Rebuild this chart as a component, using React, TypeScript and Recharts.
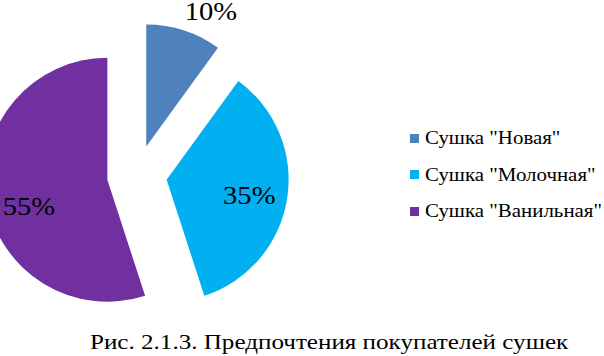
import React from "react";
import { PieChart, Pie, Cell, Legend, Sector } from "recharts";

const categories = ['Сушка "Новая"', 'Сушка "Молочная"', 'Сушка "Ванильная"'];
const shares = [10, 35, 55];
const colors = ["#4F81BD", "#00B0F0", "#7030A0"];
const title = "Рис. 2.1.3. Предпочтения покупателей сушек";

const data = categories.map((name, i) => ({ name, value: shares[i] }));

const RAD = Math.PI / 180;
const EXPLODE = 30;
const FONT = "'Liberation Serif', 'Times New Roman', serif";
const LABEL_POS = [
  { r: 1.23, da: -7.5 },
  { r: 0.69, da: -2 },
  { r: 0.68, da: 10 },
];

const ExplodedSector = (props: any) => {
  const { cx, cy, midAngle } = props;
  const dx = EXPLODE * Math.cos(-midAngle * RAD);
  const dy = EXPLODE * Math.sin(-midAngle * RAD);
  return <Sector {...props} cx={cx + dx} cy={cy + dy} stroke="none" />;
};

const renderLabel = (props: any) => {
  const { cx, cy, midAngle, outerRadius, percent, index } = props;
  const ox = cx + EXPLODE * Math.cos(-midAngle * RAD);
  const oy = cy + EXPLODE * Math.sin(-midAngle * RAD);
  const p = LABEL_POS[index];
  const a = (midAngle + p.da) * RAD;
  const x = ox + p.r * outerRadius * Math.cos(-a);
  const y = oy + p.r * outerRadius * Math.sin(-a);
  return (
    <text
      x={0}
      y={0}
      transform={`translate(${x},${y}) scale(1.1,1)`}
      textAnchor="middle"
      dominantBaseline="central"
      fontFamily={FONT}
      fontSize={26}
      fill="#000"
    >
      {`${Math.round(percent * 100)}%`}
    </text>
  );
};

const renderLegend = () => (
  <div style={{ fontFamily: FONT, fontSize: 19, color: "#000" }}>
    {categories.map((c, i) => (
      <div key={c} style={{ display: "flex", alignItems: "center", height: 36.5 }}>
        <span style={{ display: "inline-block", width: 9, height: 9, background: colors[i], marginRight: 6, flexShrink: 0 }} />
        <span style={{ display: "inline-block", transform: "scaleX(1.1)", transformOrigin: "left center", whiteSpace: "nowrap" }}>{c}</span>
      </div>
    ))}
  </div>
);

export default function App() {
  return (
    <div style={{ position: "fixed", left: 0, top: 0, width: 604, height: 356, background: "#fff", overflow: "hidden" }}>
      <PieChart width={604} height={356} margin={{ top: 0, right: 0, bottom: 0, left: 0 }}>
        <Pie
          data={data}
          dataKey="value"
          nameKey="name"
          cx={137}
          cy={175}
          outerRadius={122}
          startAngle={90}
          endAngle={-270}
          isAnimationActive={false}
          shape={ExplodedSector}
          activeShape={ExplodedSector}
          inactiveShape={ExplodedSector}
          label={renderLabel}
          labelLine={false}
          stroke="none"
        >
          {data.map((d, i) => (
            <Cell key={d.name} fill={colors[i]} />
          ))}
        </Pie>
        <Legend
          layout="vertical"
          align="right"
          verticalAlign="top"
          content={renderLegend}
          wrapperStyle={{ left: 410, top: 120, width: 194 }}
        />
      </PieChart>
      <div
        style={{
          position: "absolute",
          left: 90,
          top: 330,
          fontFamily: FONT,
          fontSize: 22,
          lineHeight: "24px",
          whiteSpace: "nowrap",
          transform: "scaleX(1.14)",
          transformOrigin: "left center",
          color: "#000",
        }}
      >
        {title}
      </div>
    </div>
  );
}
